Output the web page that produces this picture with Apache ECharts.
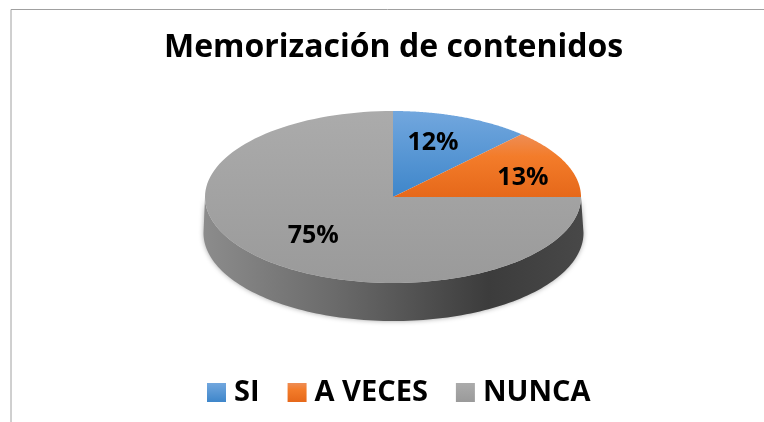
<!DOCTYPE html>
<html><head><meta charset="utf-8">
<style>html,body{margin:0;padding:0;background:#fff}#c{width:764px;height:422px}</style>
<script src="https://cdn.jsdelivr.net/npm/echarts@6/dist/echarts.min.js"></script>
</head><body><div id="c"></div>
<script>
const titleText = 'Memorización de contenidos';
const categories = ['SI', 'A VECES', 'NUNCA'];
const percentValues = [12, 13, 75];

const FONT = '"Open Sans","Noto Sans",sans-serif';
const CX = 393, CY = 197, RX = 188, RY = 86;
const WALL = {cx: 393.5, cy: 233, rx: 190, ry: 88};
const labelFrac = [[0.578, 0.675], [0.753, 0.56], [0.6, 0.64]];
const sliceStops = [
  [[0, '#72a7de'], [1, '#3e86ca']],
  [[0, '#ee8d55'], [0.35, '#f37c2a'], [1, '#e6681a']],
  [[0, '#ababab'], [1, '#9a9a9a']]
];
function grad(stops) {
  return {type: 'linear', x: 0, y: 0, x2: 0, y2: 1,
    colorStops: stops.map(s => ({offset: s[0], color: s[1]}))};
}
const total = percentValues.reduce((a, b) => a + b, 0);
function ell(e, t) { return [e.cx + e.rx * Math.sin(t), e.cy - e.ry * Math.cos(t)]; }
const TOP = {cx: CX, cy: CY, rx: RX, ry: RY};

function renderSlice(idx) {
  return function (params, api) {
    const before = percentValues.slice(0, idx).reduce((a, b) => a + b, 0);
    const t0 = before / total * 2 * Math.PI;
    const t1 = (before + api.value(0)) / total * 2 * Math.PI;
    const pts = [[CX, CY]];
    const n = 120;
    for (let i = 0; i <= n; i++) pts.push(ell(TOP, t0 + (t1 - t0) * i / n));
    const children = [];
    if (idx === 2) {
      const wall = [];
      for (let i = 0; i <= n; i++) wall.push(ell(TOP, Math.PI / 2 + Math.PI * i / n));
      for (let i = n; i >= 0; i--) wall.push(ell(WALL, Math.PI / 2 + Math.PI * i / n));
      children.push({
        type: 'polygon', shape: {points: wall},
        style: {
          fill: {type: 'linear', x: 0, y: 0, x2: 1, y2: 0, colorStops: [
            {offset: 0, color: '#8c8c8c'}, {offset: 0.35, color: '#6a6a6a'},
            {offset: 0.75, color: '#3c3c3c'}, {offset: 1, color: '#484848'}]},
          shadowBlur: 5, shadowColor: 'rgba(0,0,0,0.35)'
        }
      });
    }
    children.push({
      type: 'polygon', shape: {points: pts},
      style: {fill: grad(sliceStops[idx])}
    });
    const mid = (t0 + t1) / 2, f = labelFrac[idx];
    children.push({
      type: 'text', z2: 10,
      x: CX + RX * Math.sin(mid) * f[0],
      y: CY - RY * Math.cos(mid) * f[1],
      style: {
        text: api.value(0) + '%', fill: '#000', align: 'center', verticalAlign: 'middle',
        font: 'bold 25px ' + FONT
      }
    });
    return {type: 'group', children};
  };
}

const chart = echarts.init(document.getElementById('c'), null, {renderer: 'canvas'});
chart.setOption({
  animation: false,
  backgroundColor: '#fff',
  title: {
    text: titleText, left: 159, top: 27,
    textStyle: {fontFamily: FONT, fontWeight: 'bold', fontSize: 32, color: '#000'}
  },
  legend: {
    data: categories, left: 202, top: 373, icon: 'rect',
    itemWidth: 19, itemHeight: 19, itemGap: 28,
    textStyle: {fontFamily: FONT, fontWeight: 'bold', fontSize: 29, color: '#000', padding: [0, 0, 0, 3]}
  },
  graphic: [
    {type: 'polyline', shape: {points: [[11, 422], [11, 9.5], [764, 9.5]]},
     style: {stroke: '#a0a0a0', lineWidth: 1, fill: 'none'}, silent: true}
  ],
  series: categories.map((name, idx) => ({
    type: 'custom', name, coordinateSystem: 'none',
    itemStyle: {color: grad(sliceStops[idx])},
    data: [[percentValues[idx]]],
    renderItem: renderSlice(idx),
    silent: true
  }))
});
</script></body></html>
